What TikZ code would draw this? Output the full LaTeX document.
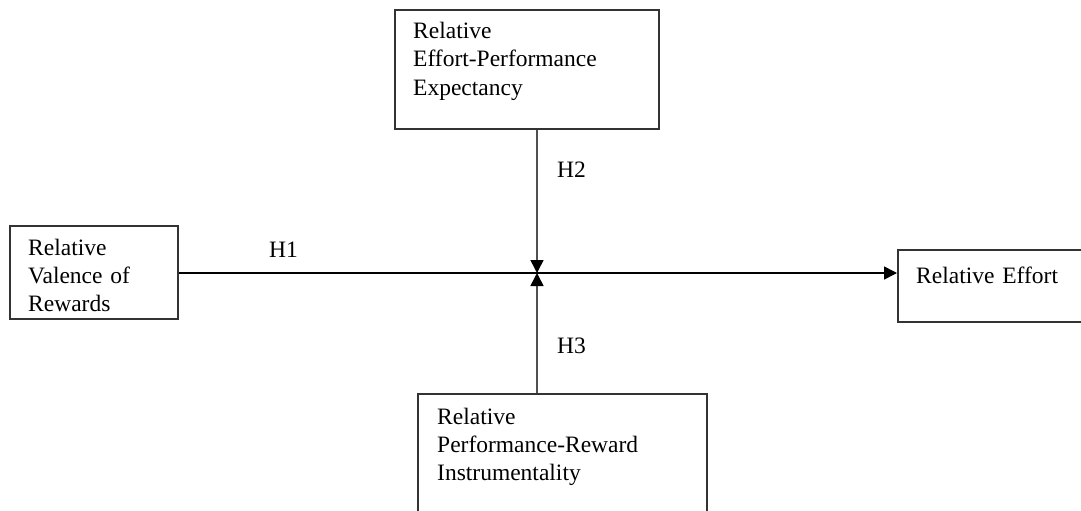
\documentclass[tikz,border=0pt]{standalone}
\usepackage{fontspec}
\setmainfont{Liberation Serif}
\usetikzlibrary{arrows.meta}
\definecolor{boxgray}{HTML}{333333}
\definecolor{vline}{HTML}{505050}
\tikzset{
  box/.style={draw=boxgray, line width=2pt, anchor=north west, inner sep=0pt, fill=white},
  txt/.style={anchor=base west, inner sep=0pt, align=left, text width=300pt,
              font=\fontsize{23.5pt}{28pt}\selectfont},
  hlab/.style={anchor=base west, inner sep=0pt, font=\fontsize{23.5pt}{28pt}\selectfont},
  conn/.style={line width=1.6pt, -{Triangle[length=13pt,width=13pt,black]}},
}
\begin{document}
\begin{tikzpicture}[x=1pt,y=-1pt]
\useasboundingbox (0,0) rectangle (1081,511);
% boxes
\node[box, minimum width=264pt, minimum height=119pt] (top) at (394,9) {};
\node[box, minimum width=168pt, minimum height=93pt] (left) at (9,225) {};
\node[box, minimum width=200pt, minimum height=72pt] (right) at (897,249) {};
\node[box, minimum width=289pt, minimum height=140pt] (bottom) at (417,393) {};
% texts
\node[txt] (toptxt) at (413,39) {Relative\\Effort-Performance\\Expectancy};
\node[txt] (lefttxt) at (28,255) {Relative\\Valence of\\Rewards};
\node[txt] (righttxt) at (916,283) {Relative Effort};
\node[txt] (bottomtxt) at (437,424) {Relative\\Performance-Reward\\Instrumentality};
% junction
\coordinate (j) at (537,273);
% connectors
\draw[conn, black] (left.east |- j) -- (right.west |- j);
\draw[conn, draw=vline] (top.south -| j) -- (j);
\draw[conn, draw=vline] (bottom.north -| j) -- (j);
% labels
\node[hlab] (h1) at (269,257) {H1};
\node[hlab] (h2) at (557,177) {H2};
\node[hlab] (h3) at (557,353) {H3};
\end{tikzpicture}
\end{document}
